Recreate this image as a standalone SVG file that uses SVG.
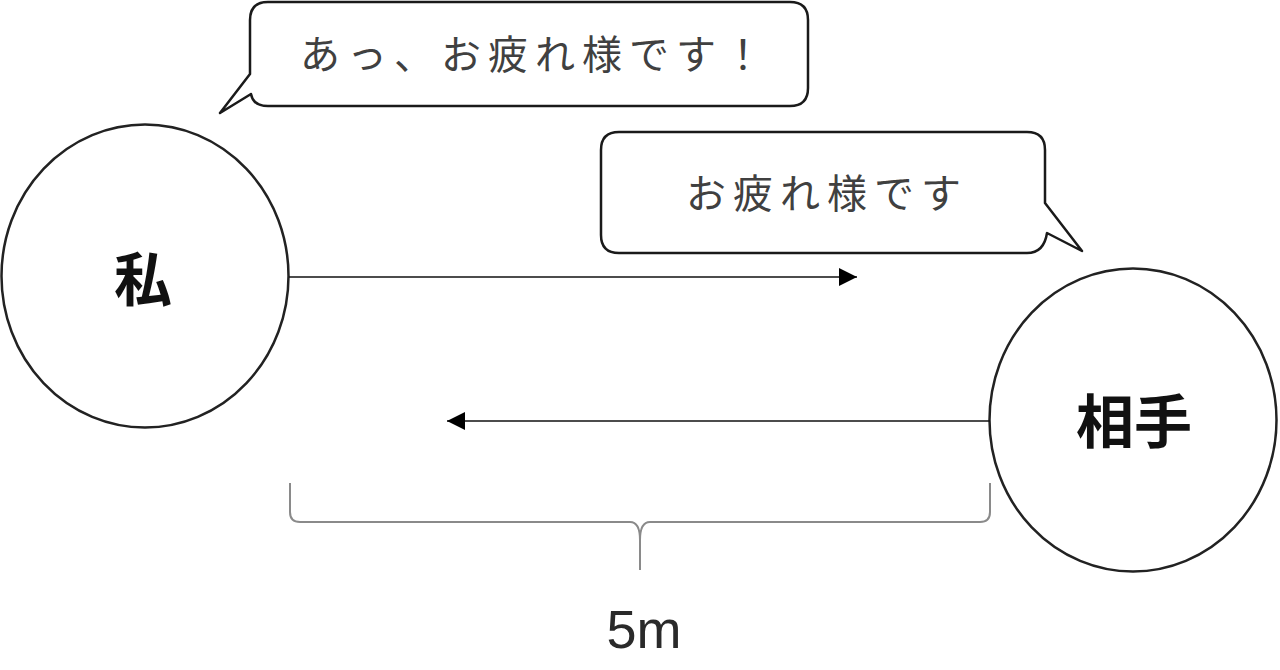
<svg xmlns="http://www.w3.org/2000/svg" width="1280" height="670" viewBox="0 0 1280 670">
  <defs>
    <style>
      .node { fill: #ffffff; stroke: #222222; stroke-width: 2.5; }
      .bubble { fill: #ffffff; stroke: #1a1a1a; stroke-width: 2.5; stroke-linejoin: round; }
      .label { font-family: "Noto Sans CJK JP", "Noto Sans", sans-serif; font-weight: 700; font-size: 58px; fill: #111111; text-anchor: middle; dominant-baseline: central; }
      .speech { font-family: "Noto Sans CJK JP", "Noto Sans", sans-serif; font-weight: 400; font-size: 40px; fill: #404040; letter-spacing: 7px; dominant-baseline: central; }
      .conn { stroke: #111111; stroke-width: 1.5; fill: none; }
      .brace { stroke: #8a8a8a; stroke-width: 2; fill: none; }
      .dim { font-family: "Liberation Sans", "Noto Sans", sans-serif; font-size: 54px; fill: #2a2a2a; text-anchor: middle; }
    </style>
    <marker id="arrow" viewBox="0 0 10 10" refX="10" refY="5" markerWidth="18" markerHeight="18" markerUnits="userSpaceOnUse" orient="auto">
      <path d="M0,0 L10,5 L0,10 Z" fill="#000000"/>
    </marker>
  </defs>

  <g id="bubble-me">
    <path class="bubble" d="M268,2 H790 Q808,2 808,20 V88 Q808,106 790,106 H268 Q253,106 251,94 L220,113 L250,74 V20 Q250,2 268,2 Z"/>
    <text class="speech" x="300" y="52">あっ、お疲れ様です！</text>
  </g>

  <g id="bubble-other">
    <path class="bubble" d="M619,132 H1027 Q1045,132 1045,150 V203 L1082,251 L1047,233 Q1044,253 1027,253 H619 Q601,253 601,235 V150 Q601,132 619,132 Z"/>
    <text class="speech" x="686" y="191">お疲れ様です</text>
  </g>

  <g id="node-me">
    <ellipse class="node" cx="145" cy="276" rx="143.5" ry="151.5"/>
    <text class="label" x="143" y="276">私</text>
  </g>

  <g id="node-other">
    <ellipse class="node" cx="1133" cy="420" rx="143.5" ry="151.5"/>
    <text class="label" x="1134" y="418">相手</text>
  </g>

  <g id="connectors">
    <line class="conn" x1="289" y1="277" x2="857" y2="277" marker-end="url(#arrow)"/>
    <line class="conn" x1="990" y1="421" x2="447" y2="421" marker-end="url(#arrow)"/>
  </g>

  <g id="distance">
    <path class="brace" d="M290,483 L290,512 Q290,522 300,522 L630,522 Q640,522 640,540 L640,570 M640,540 Q640,522 650,522 L980,522 Q990,522 990,512 L990,483"/>
    <text class="dim" x="644" y="648">5m</text>
  </g>
</svg>
